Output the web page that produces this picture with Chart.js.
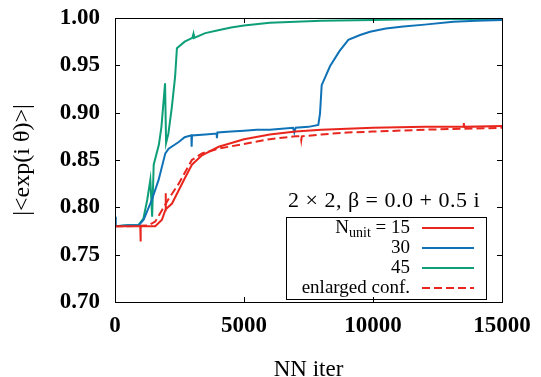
<!DOCTYPE html>
<html>
<head>
<meta charset="utf-8">
<script src="https://cdn.jsdelivr.net/npm/chart.js@4.4.0/dist/chart.umd.min.js"></script>
<style>
  html, body { margin: 0; padding: 0; background: #fff; }
  #wrap { width: 541px; height: 377px; }
</style>
</head>
<body>
<div id="wrap"><canvas id="myChart" width="541" height="377"></canvas></div>
<script>
// values
var iter15 = [0, 500, 980, 990, 1000, 1560, 1820, 1950, 1960, 1975, 2210, 2470, 2730, 2980, 3370, 4020, 5000, 6000, 7000, 8000, 9000, 10000, 12000, 13500, 13520, 13540, 15000];
var val15  = [0.780, 0.780, 0.780, 0.764, 0.780, 0.780, 0.787, 0.797, 0.815, 0.798, 0.804, 0.818, 0.832, 0.845, 0.855, 0.864, 0.872, 0.877, 0.880, 0.882, 0.883, 0.884, 0.885, 0.885, 0.889, 0.885, 0.886];

var iter30 = [0, 30, 500, 920, 1110, 1430, 1690, 1950, 2080, 2470, 2700, 2960, 2970, 2985, 3500, 3940, 3950, 3970, 4500, 5000, 5500, 6000, 6900, 6950, 7000, 7500, 7880, 7946, 8011, 8333, 8700, 9043, 9500, 9884, 10500, 11176, 12000, 13113, 14000, 15000];
var val30  = [0.790, 0.780, 0.781, 0.781, 0.787, 0.808, 0.829, 0.857, 0.862, 0.869, 0.874, 0.876, 0.864, 0.876, 0.877, 0.878, 0.873, 0.879, 0.880, 0.881, 0.882, 0.882, 0.884, 0.879, 0.884, 0.885, 0.887, 0.899, 0.929, 0.949, 0.965, 0.977, 0.982, 0.9855, 0.989, 0.991, 0.993, 0.996, 0.997, 0.998];

var iter45 = [0, 500, 900, 1100, 1250, 1370, 1440, 1500, 1700, 1800, 1940, 1980, 2070, 2200, 2330, 2400, 2700, 3000, 3040, 3060, 3500, 4000, 4500, 5000, 6000, 7000, 8000, 10000, 12000, 15000];
var val45  = [0.780, 0.781, 0.781, 0.788, 0.808, 0.829, 0.790, 0.845, 0.866, 0.885, 0.931, 0.868, 0.878, 0.905, 0.938, 0.968, 0.975, 0.979, 0.983, 0.979, 0.984, 0.987, 0.990, 0.992, 0.995, 0.996, 0.997, 0.998, 0.999, 0.999];

var iterBig = [0, 500, 1300, 1560, 1820, 2080, 2470, 2980, 3370, 4020, 5000, 6000, 7000, 7200, 7220, 7240, 8000, 9000, 10000, 12000, 15000];
var valBig  = [0.780, 0.780, 0.781, 0.785, 0.797, 0.809, 0.825, 0.850, 0.857, 0.862, 0.867, 0.872, 0.875, 0.875, 0.871, 0.875, 0.877, 0.879, 0.880, 0.882, 0.884];

var xTicks = [0, 5000, 10000, 15000];
var yTicks = [0.70, 0.75, 0.80, 0.85, 0.90, 0.95, 1.00];

var legendLabels = ['15', '30', '45', 'enlarged conf.'];
var plotTitle = '2 \u00d7 2, \u03b2 = 0.0 + 0.5 i';

var RED = '#e8261d';
var BLUE = '#0f72b6';
var GREEN = '#0e9f78';
var SERIF = '"Liberation Serif", "Times New Roman", serif';

function toPoints(xs, ys) {
  var pts = [];
  for (var i = 0; i < xs.length; i++) {
    pts.push({ x: xs[i], y: ys[i] });
  }
  return pts;
}

// frame, inward ticks (mirrored), title and legend box
var gnuplotLook = {
  id: 'gnuplotLook',
  afterDraw: function (chart) {
    var ctx = chart.ctx;
    var a = chart.chartArea;
    var xs = chart.scales.x;
    var ys = chart.scales.y;
    ctx.save();
    ctx.strokeStyle = '#000';
    ctx.lineWidth = 1;
    ctx.strokeRect(Math.round(a.left) + 0.5, Math.round(a.top) + 0.5,
      Math.round(a.right - a.left), Math.round(a.bottom - a.top));

    var tl = 5;
    ctx.beginPath();
    for (var i = 0; i < xTicks.length; i++) {
      var px = Math.round(xs.getPixelForValue(xTicks[i])) + 0.5;
      ctx.moveTo(px, a.bottom); ctx.lineTo(px, a.bottom - tl);
      ctx.moveTo(px, a.top); ctx.lineTo(px, a.top + tl);
    }
    for (var j = 0; j < yTicks.length; j++) {
      var py = Math.round(ys.getPixelForValue(yTicks[j])) + 0.5;
      ctx.moveTo(a.left, py); ctx.lineTo(a.left + tl, py);
      ctx.moveTo(a.right, py); ctx.lineTo(a.right - tl, py);
    }
    ctx.stroke();

    // key title
    ctx.fillStyle = '#000';
    ctx.font = '22px ' + SERIF;
    ctx.letterSpacing = '0.5px';
    ctx.textAlign = 'center';
    ctx.textBaseline = 'middle';
    ctx.fillText(plotTitle, 384, 201);
    ctx.letterSpacing = '0px';

    // key box
    ctx.strokeRect(286.5, 217.5, 200, 82);

    var rowY = [228, 248, 268, 288];
    var colors = [RED, BLUE, GREEN, RED];
    var textRight = 410;
    ctx.textAlign = 'right';
    for (var k = 0; k < legendLabels.length; k++) {
      var y = rowY[k];
      ctx.font = '19px ' + SERIF;
      if (k === 0) {
        var rest = ' = ' + legendLabels[k];
        var wRest = ctx.measureText(rest).width;
        ctx.fillText(rest, textRight, y);
        ctx.font = '14px ' + SERIF;
        var wSub = ctx.measureText('unit').width;
        ctx.fillText('unit', textRight - wRest, y + 5);
        ctx.font = '19px ' + SERIF;
        ctx.fillText('N', textRight - wRest - wSub, y);
      } else {
        ctx.fillText(legendLabels[k], textRight, y);
      }
      ctx.strokeStyle = colors[k];
      ctx.lineWidth = 2;
      ctx.setLineDash(k === 3 ? [8, 4] : []);
      ctx.beginPath();
      ctx.moveTo(422, y);
      ctx.lineTo(474, y);
      ctx.stroke();
    }
    ctx.restore();
  }
};

const chart_data = {
  datasets: [
    { label: 'N_unit = 15', data: toPoints(iter15, val15), borderColor: RED, borderWidth: 2 },
    { label: '30', data: toPoints(iter30, val30), borderColor: BLUE, borderWidth: 2 },
    { label: '45', data: toPoints(iter45, val45), borderColor: GREEN, borderWidth: 2 },
    { label: 'enlarged conf.', data: toPoints(iterBig, valBig), borderColor: RED, borderWidth: 2, borderDash: [8, 4] }
  ]
};

const config = {
  type: 'line',
  data: chart_data,
  options: {
    responsive: false,
    animation: false,
    layout: { padding: { top: 18, right: 39, left: 0, bottom: 0 } },
    elements: { point: { radius: 0 }, line: { tension: 0, fill: false } },
    plugins: { legend: { display: false }, tooltip: { enabled: false } },
    scales: {
      x: {
        type: 'linear',
        min: 0,
        max: 15000,
        afterFit: function (s) { s.height = 75; s.paddingLeft = 0; s.paddingRight = 0; },
        afterBuildTicks: function (s) { s.ticks = xTicks.map(function (v) { return { value: v }; }); },
        grid: { display: false, drawTicks: false },
        border: { display: false },
        ticks: {
          padding: 10,
          color: '#000',
          maxRotation: 0,
          font: { family: SERIF, size: 23, weight: 'bold' },
          callback: function (v) { return String(v); }
        },
        title: {
          display: true,
          text: 'NN iter',
          color: '#000',
          font: { family: SERIF, size: 23, lineHeight: 1 },
          padding: { top: 0, bottom: -4 }
        }
      },
      y: {
        min: 0.70,
        max: 1.00,
        afterFit: function (s) { s.width = 115; s.paddingTop = 0; s.paddingBottom = 0; },
        afterBuildTicks: function (s) { s.ticks = yTicks.map(function (v) { return { value: v }; }); },
        grid: { display: false, drawTicks: false },
        border: { display: false },
        ticks: {
          padding: 15,
          color: '#000',
          font: { family: SERIF, size: 23, weight: 'bold' },
          callback: function (v) { return v.toFixed(2); }
        },
        title: {
          display: true,
          text: '|<exp(i \u03b8)>|',
          color: '#000',
          font: { family: SERIF, size: 24 },
          padding: { top: 8, bottom: 0 }
        }
      }
    }
  },
  plugins: [gnuplotLook]
};

const myChart = new Chart(document.getElementById('myChart'), config);
</script>
</body>
</html>
